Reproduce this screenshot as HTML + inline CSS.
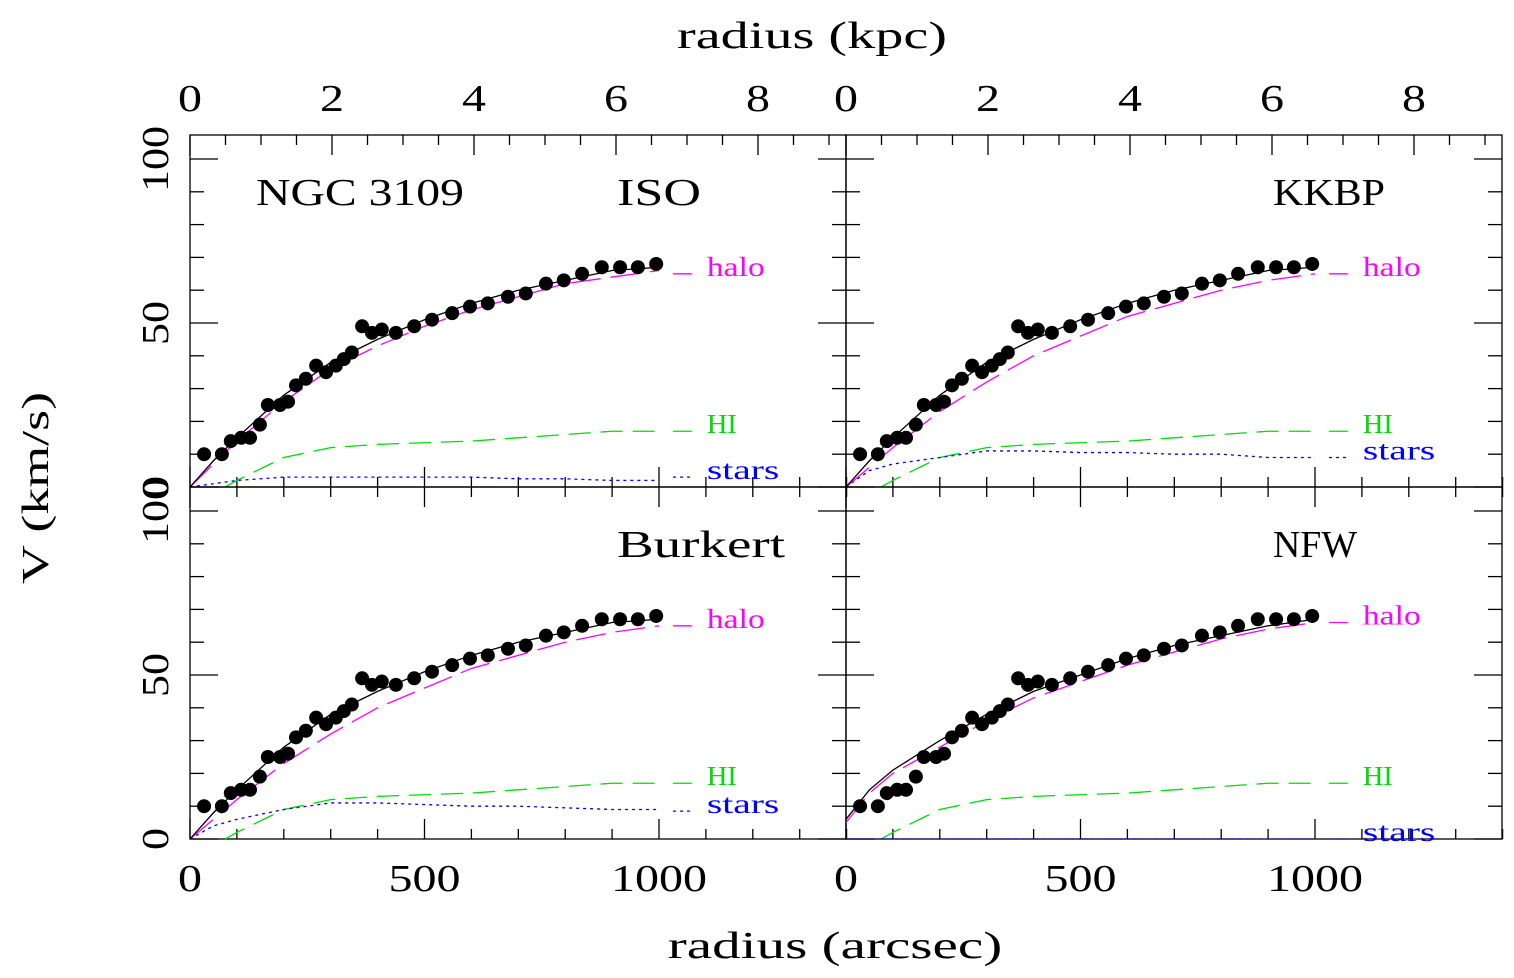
<!DOCTYPE html>
<html><head><meta charset="utf-8">
<style>
html,body{margin:0;padding:0;background:#fff;}
svg{display:block;}
text{font-family:"Liberation Serif",serif;}
</style></head>
<body>
<svg id="chart" width="1514" height="978" viewBox="0 0 1514 978" xmlns="http://www.w3.org/2000/svg"></svg>
<script>
// ---- data ----
const obsR = [30,68,87,109,128,149,166,192,209,226,247,269,290,311,328,345,367,388,409,439,478,516,559,597,635,678,716,759,797,836,878,917,955,994];
const obsV = [10,10,14,15,15,19,25,25,26,31,33,37,35,37,39,41,49,47,48,47,49,51,53,55,56,58,59,62,63,65,67,67,67,68];
const modelR = [0,50,100,200,300,400,500,600,700,800,900,1000];
const haloISO    = [0,7,14,26,36,43,49,54,58,62,64,66];
const totalISO   = [0,8,15,28,38,45,51,56,60,63,66,67];
const haloKKBP   = [0,6,12,23,32,40,46,52,56,60,63,65];
const totalKKBP  = [0,8,15,28,38,45,51,56,60,63,66,67];
const haloBurk   = [0,6,12,23,32,40,46,52,56,60,63,65];
const totalBurk  = [0,8,15,28,38,45,51,56,60,63,66,67];
const haloNFW    = [5,14,20,28,36,43,48,53,57,61,64,66];
const totalNFW   = [6,15,21,30,38,45,50,55,59,62,65,67];
const hiR = [75,100,200,300,400,500,600,700,800,900,1000];
const hiV = [0,2,9,12,13,13.5,14,15,16,17,17];
const starsISO  = [0,1,2,3,3,3,3,3,2.5,2.5,2,2];
const starsKKBP = [0,5,7,9,11,11,10.5,10.5,10,10,9,9];
const starsBurk = [0,4,6,9,11,11,10.5,10,10,9.5,9,9];
const starsNFW  = [0,0,0,0,0,0,0,0,0,0,0,0];
const panels = [
  {name:'iso',label:'ISO',halo:haloISO,total:totalISO,stars:starsISO,col:0,row:0,lab:{halo:67,hi:19,stars:5}},
  {name:'kkbp',label:'KKBP',halo:haloKKBP,total:totalKKBP,stars:starsKKBP,col:1,row:0,lab:{halo:67,hi:19,stars:11}},
  {name:'burkert',label:'Burkert',halo:haloBurk,total:totalBurk,stars:starsBurk,col:0,row:1,lab:{halo:67,hi:19,stars:10.5}},
  {name:'nfw',label:'NFW',halo:haloNFW,total:totalNFW,stars:starsNFW,col:1,row:1,lab:{halo:68,hi:19,stars:2}}
];
const xTicks = [0,500,1000];
const kpcTicks = [0,2,4,6,8];
const yTicks = [0,50,100];

// ---- geometry ----
const svg = document.getElementById('chart');
const NS='http://www.w3.org/2000/svg';
const PX0=[190,846], PW=656, PY0=[487,839];
const sx=0.469, sy=3.28, kpcS=71;
function el(tag,attrs,parent){const e=document.createElementNS(NS,tag);for(const k in attrs)e.setAttribute(k,attrs[k]);(parent||svg).appendChild(e);return e;}
function txt(s,x,y,size,fill,anchor,rot,perChar){const t=el('text',{x:x,y:y,'font-size':size,fill:fill||'#000','text-anchor':anchor||'middle'});if(rot)t.setAttribute('transform','rotate(-90 '+x+' '+y+')');if(perChar){t.setAttribute('textLength',perChar*s.length);t.setAttribute('lengthAdjust','spacingAndGlyphs');}t.textContent=s;return t;}

panels.forEach(p=>{
  const x0=PX0[p.col], yb=PY0[p.row], yt=yb-352;
  const X=a=>x0+a*sx, Y=v=>yb-v*sy;
  const g=el('g',{});
  
  
  el('rect',{x:x0,y:yt,width:PW,height:352,fill:'none',stroke:'#000','stroke-width':1.3},g);
  for(let a=0;a<=1400;a+=100){const L=a%500===0?20:10;
    el('line',{x1:X(a),y1:yb,x2:X(a),y2:yb-L,stroke:'#000','stroke-width':1.3},g);
    if(p.row===1) el('line',{x1:X(a),y1:yt,x2:X(a),y2:yt+L,stroke:'#000','stroke-width':1.3},g);}
  if(p.row===0){for(let k=0;k<=9;k+=0.5){const L=k%2===0?20:10;const xx=x0+k*kpcS;if(xx>x0+PW)break;
    el('line',{x1:xx,y1:yt,x2:xx,y2:yt+L,stroke:'#000','stroke-width':1.3},g);}}
  for(let v=0;v<=100;v+=10){const L=v%50===0?28:14;
    el('line',{x1:x0,y1:Y(v),x2:x0+L,y2:Y(v),stroke:'#000','stroke-width':1.3},g);
    el('line',{x1:x0+PW,y1:Y(v),x2:x0+PW-L,y2:Y(v),stroke:'#000','stroke-width':1.3},g);}
  const pts=(rs,vs)=>rs.map((r,i)=>X(r)+','+Y(vs[i])).join(' ');
  const hi=el('polyline',{points:pts(hiR,hiV),fill:'none',stroke:'#00dd00','stroke-width':1.3,'stroke-dasharray':'22,10'},g);
  
  
  const st=el('polyline',{points:pts(modelR,p.stars),fill:'none',stroke:'#0000ff','stroke-width':1.3,'stroke-dasharray':'3,4'},g);
  
  
  const ha=el('polyline',{points:pts(modelR,p.halo),fill:'none',stroke:'#ff00ff','stroke-width':1.3,'stroke-dasharray':'30,10'},g);
  
  
  const to=el('polyline',{points:pts(modelR,p.total),fill:'none',stroke:'#000','stroke-width':1.3},g);
  
  
  obsR.forEach((r,i)=>{const c=el('circle',{cx:X(r),cy:Y(obsV[i]),r:7,fill:'#000'},g);
    
    });
  [['halo',p.lab.halo,'#ff00ff'],['HI',p.lab.hi,'#00dd00'],['stars',p.lab.stars,'#0000ff']].forEach(([n,v,c])=>{
    el('line',{x1:X(1030),y1:Y(v-2),x2:X(1070),y2:Y(v-2),stroke:c,'stroke-width':1.3,'stroke-dasharray':n==='stars'?'3,4':'none'},g);
    const t=txt(n,X(1102),Y(v-2)+2,27,c,'start',false,n==='HI'?15:14.5);
    
    
  });
  const mt=txt(p.label,x0+427,yt+70,38,'#000','start',false,p.label==='Burkert'?24:28);
  
  
  if(p.name==='iso'){const gt=txt('NGC 3109',256,yt+70,38,'#000','start',false,26);
    
    }
  if(p.row===1) xTicks.forEach(a=>{const t=txt(String(a),X(a),891,38,'#000','middle',false,24);});
  if(p.row===0) kpcTicks.forEach(k=>{const t=txt(String(k),x0+k*kpcS,111,38,'#000','middle',false,24);});
  if(p.col===0) yTicks.forEach(v=>{const t=txt(String(v),168,Y(v),38,'#000','middle',true,22);});
});
const t1=txt('radius (kpc)',812,48,38,'#000','middle',false,22.5);


const t2=txt('radius (arcsec)',835,958,38,'#000','middle',false,22.3);


const t3=txt('V (km/s)',48,488,38,'#000','middle',true,24);


</script>
</body></html>
